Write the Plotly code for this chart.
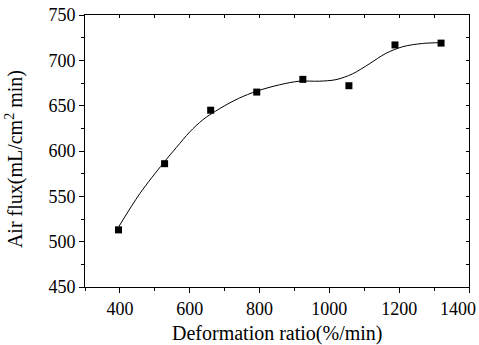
import plotly.graph_objects as go

# Measured air flux at each deformation ratio
deformation_ratio = [396, 528, 660, 792, 924, 1056, 1188, 1320]
air_flux = [513, 586, 645, 665, 679, 672, 717, 719]

# Smoothed trend curve through the measurements
curve_x = [396, 457, 524, 562, 600, 638, 686, 740, 792, 857, 914, 971,
           1019, 1066, 1114, 1162, 1210, 1267, 1320]
curve_y = [516, 553, 586.5, 604, 621, 634.6, 646.8, 658, 666, 673, 677,
           677, 678.7, 685, 696, 707.7, 715, 718.6, 719.5]

# x tick positions and labels; the label at the right end is drawn as an
# annotation pulled in from the page edge
x_tickvals = [400, 600, 800, 1000, 1200, 1400]
x_ticktext = ["400", "600", "800", "1000", "1200", ""]
x_edge_label = "1400"

FONT = "Liberation Serif"
X_TITLE = "Deformation ratio(%/min)"
Y_TITLE = "Air flux(mL/cm<sup>2</sup> min)"

fig = go.Figure()
fig.add_trace(go.Scatter(
    x=curve_x, y=curve_y, mode="lines",
    line=dict(color="black", width=1, shape="spline", smoothing=0.9),
    showlegend=False, hoverinfo="skip",
))
fig.add_trace(go.Scatter(
    x=deformation_ratio, y=air_flux, mode="markers",
    marker=dict(symbol="square", size=7, color="black"),
    showlegend=False,
))
# empty trace so the mirrored top/right frame axes are drawn
fig.add_trace(go.Scatter(x=[], y=[], xaxis="x2", yaxis="y2",
                         showlegend=False, hoverinfo="skip"))

axis_common = dict(showgrid=False, zeroline=False, showline=True,
                   linecolor="black", linewidth=1, tickcolor="black",
                   automargin=False)

fig.update_layout(
    width=479, height=345,
    margin=dict(l=85, r=10, t=15, b=58),
    paper_bgcolor="white", plot_bgcolor="white",
    font=dict(family=FONT, color="black", size=18),
    xaxis=dict(
        **axis_common, range=[300, 1400],
        tickmode="array", tickvals=x_tickvals, ticktext=x_ticktext,
        ticks="outside", ticklen=5, tickwidth=1,
        minor=dict(dtick=100, tick0=300, ticks="outside", ticklen=3,
                   tickcolor="black"),
        tickfont=dict(size=18, family=FONT),
    ),
    yaxis=dict(
        **axis_common, range=[450, 750], tick0=450, dtick=50,
        ticks="outside", ticklen=5, tickwidth=1,
        ticklabeloverflow="allow",
        minor=dict(dtick=25, tick0=450, ticks="outside", ticklen=3,
                   tickcolor="black"),
        tickfont=dict(size=18, family=FONT),
    ),
    xaxis2=dict(
        **axis_common, overlaying="x", side="top", anchor="y2",
        range=[300, 1400], tick0=300, dtick=100,
        ticks="inside", ticklen=3, showticklabels=False,
    ),
    yaxis2=dict(
        **axis_common, overlaying="y", side="right", anchor="x2",
        range=[450, 750], tick0=450, dtick=25,
        ticks="inside", ticklen=3, showticklabels=False,
    ),
    annotations=[
        dict(text=x_edge_label, xref="paper", yref="paper", x=1.0234,
             y=-0.081, xanchor="right", yanchor="middle", showarrow=False,
             font=dict(size=18, family=FONT)),
        dict(text=X_TITLE, xref="paper", yref="paper", x=0.5, y=-0.22,
             xanchor="center", yanchor="bottom", showarrow=False,
             font=dict(size=20, family=FONT)),
        dict(text=Y_TITLE, xref="paper", yref="paper", x=-0.185, y=0.47,
             xanchor="center", yanchor="middle", textangle=-90,
             showarrow=False, font=dict(size=20, family=FONT)),
    ],
)

fig.write_html("out.html")
